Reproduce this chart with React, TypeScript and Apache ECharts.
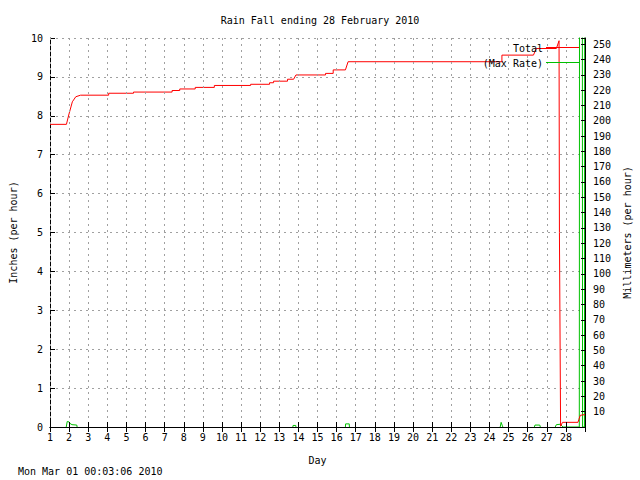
import React, { useEffect, useRef } from "react";
import * as echarts from "echarts";

const title = "Rain Fall ending 28 February 2010";
const stamp = "Mon Mar 01 00:03:06 2010";

// Monthly running total (inches)
const totalDays = [1, 1.86, 1.98, 2.17, 2.35, 2.6, 4.07, 4.07, 5.37, 5.37, 7.39, 7.39, 7.79, 7.79, 8.6, 8.6, 9.6, 9.6, 11.5, 11.5, 12.49, 12.49, 12.7, 12.7, 13.43, 13.43, 13.75, 13.87, 15.42, 15.42, 15.82, 15.82, 16.46, 16.6, 24.65, 24.65, 26.3, 26.45, 27.5, 27.64, 27.66, 27.72, 27.82, 28.63, 28.68, 28.75, 29];
const totalInches = [7.78, 7.78, 8.02, 8.36, 8.49, 8.53, 8.53, 8.58, 8.58, 8.61, 8.61, 8.65, 8.65, 8.69, 8.69, 8.73, 8.73, 8.78, 8.78, 8.81, 8.81, 8.85, 8.85, 8.89, 8.89, 8.94, 8.94, 9.05, 9.05, 9.09, 9.09, 9.18, 9.18, 9.39, 9.39, 9.56, 9.56, 9.73, 9.73, 9.93, 5.0, 0.02, 0.12, 0.12, 0.2, 0.3, 0.32];

// Max rate (inches per hour); null = gap
const rateDays = [1.85, 1.9, 2.0, 2.05, 2.15, 2.4, 2.42, 2.5, 13.71, 13.72, 13.86, 13.87, 14, 16.46, 16.47, 16.66, 16.67, 17, 24.56, 24.61, 24.66, 24.7, 25, 26.35, 26.38, 26.63, 26.66, 27, 27.44, 27.5, 27.7, 27.85, 28.7, 28.72, 28.85, 28.87, 28.97, 28.99, 29];
const rateInches: (number | null)[] = [0, 0.14, 0.13, 0.09, 0.06, 0.05, 0, null, 0, 0.04, 0.04, 0, null, 0, 0.08, 0.08, 0, null, 0, 0.12, 0.05, 0, null, 0, 0.05, 0.05, 0, null, 0, 0.06, 0.07, 0, 0, 20, 20, 0, 0, 20, 20];

const xMin = 1;
const xMax = 29;
const leftMax = 10;
const rightMax = 254;

const FONT = "'DejaVu Sans Mono', 'Liberation Mono', monospace";

export default function App() {
  const ref = useRef<HTMLDivElement>(null);
  useEffect(() => {
    document.body.style.margin = "0";
    const chart = echarts.init(ref.current!, undefined, { renderer: "svg" });
    const totalData = totalDays.map((d, i) => [d, totalInches[i]]);
    const rateData = rateDays.map((d, i) => [d, rateInches[i]]);
    const txt = { fontFamily: FONT, fontSize: 10, color: "#000" };
    const grid = { show: true, lineStyle: { color: "#a0a0a0", type: [2, 4] as any, width: 1 } };
    chart.setOption({
      animation: false,
      backgroundColor: "#fff",
      title: {
        text: title,
        left: "center",
        top: 10,
        textStyle: { ...txt, fontWeight: "normal" },
      },
      grid: { left: 49, right: 50, top: 38, bottom: 53, containLabel: false },
      xAxis: [
        {
          type: "value",
          min: xMin,
          max: xMax,
          interval: 1,
          position: "bottom",
          name: "Day",
          nameLocation: "middle",
          nameGap: 28,
          nameTextStyle: txt,
          z: 10,
          axisLine: { show: true, lineStyle: { color: "#000", width: 1 } },
          axisTick: { show: true, inside: true, length: 5, lineStyle: { color: "#000" } },
          axisLabel: {
            ...txt,
            margin: 5,
            formatter: (v: number) => (v >= xMax ? "" : String(v)),
          },
          splitLine: grid,
        },
        {
          type: "value",
          min: xMin,
          max: xMax,
          interval: 1,
          position: "top",
          axisLine: { show: true, lineStyle: { color: "#000", width: 1 } },
          axisTick: { show: true, inside: true, length: 5, lineStyle: { color: "#000" } },
          axisLabel: { show: false },
          splitLine: { show: false },
        },
      ],
      yAxis: [
        {
          type: "value",
          min: 0,
          max: leftMax,
          interval: 1,
          position: "left",
          name: "Inches (per hour)",
          nameLocation: "middle",
          nameRotate: 90,
          nameGap: 32,
          nameTextStyle: txt,
          axisLine: { show: true, lineStyle: { color: "#000", width: 1 } },
          axisTick: { show: true, inside: true, length: 5, lineStyle: { color: "#000" } },
          axisLabel: { ...txt, margin: 7 },
          splitLine: grid,
        },
        {
          type: "value",
          min: 0,
          max: rightMax,
          interval: 10,
          position: "right",
          name: "Millimeters (per hour)",
          nameLocation: "middle",
          nameRotate: 90,
          nameGap: 31,
          nameTextStyle: txt,
          z: 10,
          axisLine: { show: true, lineStyle: { color: "#000", width: 1 } },
          axisTick: { show: true, inside: true, length: 4, lineStyle: { color: "#000" } },
          axisLabel: {
            ...txt,
            margin: 8,
            formatter: (v: number) => (v === 0 || v % 10 !== 0 ? "" : String(v)),
          },
          splitLine: { show: false },
        },
      ],
      series: [
        {
          name: "Total",
          type: "line",
          data: totalData,
          xAxisIndex: 0,
          yAxisIndex: 0,
          showSymbol: false,
          clip: true,
          lineStyle: { color: "#ff0000", width: 1 },
          itemStyle: { color: "#ff0000" },
          z: 3,
        },
        {
          name: "(Max Rate)",
          type: "line",
          data: rateData,
          xAxisIndex: 0,
          yAxisIndex: 0,
          showSymbol: false,
          clip: true,
          connectNulls: false,
          lineStyle: { color: "#00c000", width: 1 },
          itemStyle: { color: "#00c000" },
          z: 2,
        },
      ],
      graphic: [
        { type: "text", left: 18, top: 466, style: { text: stamp, font: `10px ${FONT}`, fill: "#000" } },
        { type: "text", x: 543, y: 48, style: { text: "Total", font: `10px ${FONT}`, fill: "#000", textAlign: "right", textVerticalAlign: "middle" }, z: 20 },
        { type: "line", shape: { x1: 546, y1: 47.5, x2: 579, y2: 47.5 }, style: { stroke: "#ff0000", lineWidth: 1 }, z: 20 },
        { type: "text", x: 543, y: 63, style: { text: "(Max Rate)", font: `10px ${FONT}`, fill: "#000", textAlign: "right", textVerticalAlign: "middle" }, z: 20 },
        { type: "line", shape: { x1: 546, y1: 62.5, x2: 579, y2: 62.5 }, style: { stroke: "#00c000", lineWidth: 1 }, z: 20 },
      ],
    });
    return () => chart.dispose();
  }, []);
  return <div ref={ref} style={{ width: 640, height: 480 }} />;
}
